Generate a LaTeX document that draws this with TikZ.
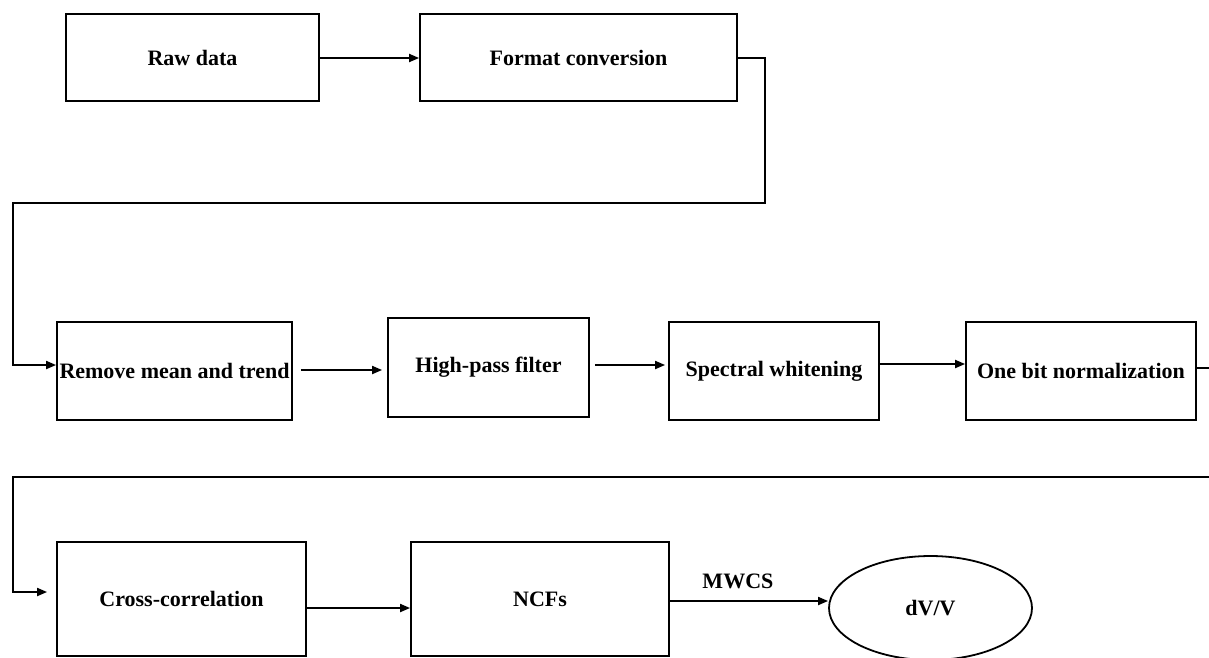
\documentclass[tikz,border=0pt]{standalone}
\usepackage{fontspec}
\setmainfont{Liberation Serif}
\usetikzlibrary{arrows.meta,shapes.geometric}
\begin{document}
\begin{tikzpicture}[x=1pt,y=-1pt,
  box/.style={draw,line width=1.8pt,inner sep=0pt,anchor=center,
    font=\fontsize{22}{26}\selectfont\bfseries},
  conn/.style={line width=1.9pt},
  arr/.style={conn,-{Triangle[length=10pt,width=8pt]}}]
\useasboundingbox (0,0) rectangle (1209,657);
\node[box,minimum width=253pt,minimum height=87pt] (raw) at (192.5,57.5) {\raisebox{-2pt}{Raw data}};
\node[box,minimum width=317pt,minimum height=87pt] (fmt) at (578.5,57.5) {\raisebox{-2pt}{Format conversion}};
\node[box,minimum width=235pt,minimum height=98pt] (rm) at (174.5,371) {\raisebox{-2pt}{Remove mean and trend}};
\node[box,minimum width=201pt,minimum height=99pt] (hp) at (488.5,367.5) {\raisebox{-1pt}{High-pass filter}};
\node[box,minimum width=210pt,minimum height=98pt] (sw) at (774,371) {\raisebox{-2pt}{Spectral whitening}};
\node[box,minimum width=230pt,minimum height=98pt] (ob) at (1081,371) {\raisebox{-2pt}{One bit normalization}};
\node[box,minimum width=249pt,minimum height=114pt] (cc) at (181.5,599) {Cross-correlation};
\node[box,minimum width=258pt,minimum height=114pt] (ncf) at (540,599) {NCFs};
\node[box,ellipse,minimum width=203pt,minimum height=104pt] (dv) at (930.5,608) {\raisebox{-4pt}{dV/V}};
\coordinate (c1) at (765,58);
\coordinate (c2) at (765,203);
\coordinate (c3) at (13,203);
\coordinate (c4) at (13,365);
\coordinate (e1) at (1209,368);
\coordinate (d1) at (1209,477);
\coordinate (d2) at (13,477);
\coordinate (d3) at (13,592);
\draw[arr] (raw.east |- 0,58) -- (fmt.west |- 0,58);
\draw[arr] (fmt.east |- c1) -- (c1) -- (c2) -- (c3) -- (c4) -- (c4 -| rm.west);
\draw[arr,shorten <=8pt,shorten >=5pt] (rm.east |- 0,370) -- (hp.west |- 0,370);
\draw[arr,shorten <=5pt,shorten >=3pt] (hp.east |- 0,365) -- (sw.west |- 0,365);
\draw[arr] (sw.east |- 0,364) -- (ob.west |- 0,364);
\draw[conn] (ob.east |- e1) -- (e1);
\draw[arr,shorten >=9pt] (d1) -- (d2) -- (d3) -- (d3 -| cc.west);
\draw[arr] (cc.east |- 0,608) -- (ncf.west |- 0,608);
\draw[arr] (ncf.east |- 0,601) -- node[above=8pt,pos=0.43,font=\fontsize{22}{26}\selectfont\bfseries] (mw) {MWCS} (dv.west |- 0,601);
\end{tikzpicture}
\end{document}
